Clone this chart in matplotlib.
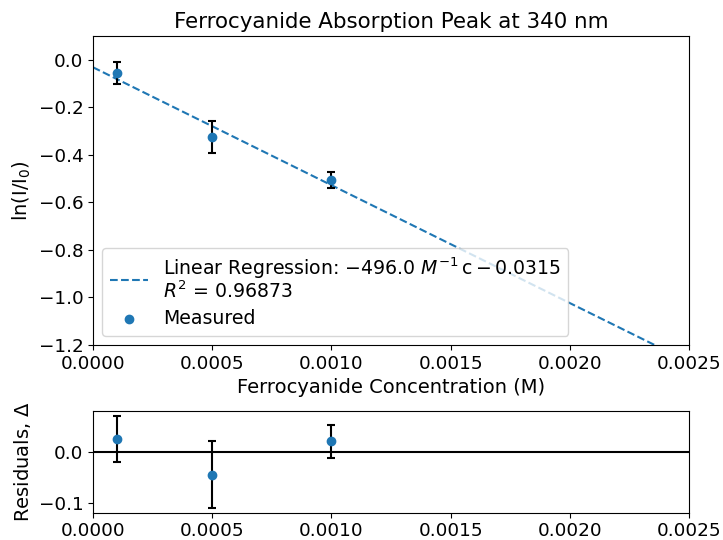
import numpy as np
import matplotlib
matplotlib.use('Agg')
import matplotlib.pyplot as plt

# measured data
conc = [0.0001, 0.0005, 0.001]
ln_ratio = [-0.056, -0.325, -0.507]
ln_err = [0.046, 0.066, 0.033]

# linear fit
slope = -496.0
intercept = -0.0315
r_squared = 0.96873

conc = np.array(conc)
ln_ratio = np.array(ln_ratio)
resid = ln_ratio - (slope * conc + intercept)

plt.rcParams['font.size'] = 13.2
plt.rcParams['axes.labelsize'] = 14
plt.rcParams['axes.titlesize'] = 15.4

fig = plt.figure(figsize=(7.23, 5.4), dpi=100)
ax = fig.add_axes([0.1286, 0.3611, 0.8244, 0.5722])
ax_r = fig.add_axes([0.1286, 0.05, 0.8244, 0.1889])

xfit = np.linspace(0, 0.0025, 100)
label = (r"Linear Regression: $-496.0\ M^{-1}\,\mathrm{c} - 0.0315$" + "\n" +
         r"$R^2$ = " + f"{r_squared}")
ax.plot(xfit, slope * xfit + intercept, '--', color='tab:blue', label=label)
ax.errorbar(conc, ln_ratio, yerr=ln_err, fmt='none', ecolor='black',
            capsize=3, elinewidth=1.5, capthick=1.5)
ax.scatter(conc, ln_ratio, color='tab:blue', label='Measured', zorder=3)
ax.set_xlim(0, 0.0025)
ax.set_ylim(-1.2, 0.1)
ax.set_xlabel('Ferrocyanide Concentration (M)')
ax.set_ylabel(r'ln(I/I$_0$)')
ax.set_title('Ferrocyanide Absorption Peak at 340 nm')
leg = ax.legend(loc='lower left', fontsize=13.6, labelspacing=0.35)
for t in leg.get_texts():
    t.set_linespacing(1.0)

ax_r.axhline(0, color='black', lw=1.5)
ax_r.errorbar(conc, resid, yerr=ln_err, fmt='none', ecolor='black',
              capsize=3, elinewidth=1.5, capthick=1.5)
ax_r.scatter(conc, resid, color='tab:blue', zorder=3)
ax_r.set_xlim(0, 0.0025)
ax_r.set_ylabel(r'Residuals, $\Delta$')
ax_r.tick_params(axis='x', pad=3)

fig.savefig('out.png', dpi=100)
